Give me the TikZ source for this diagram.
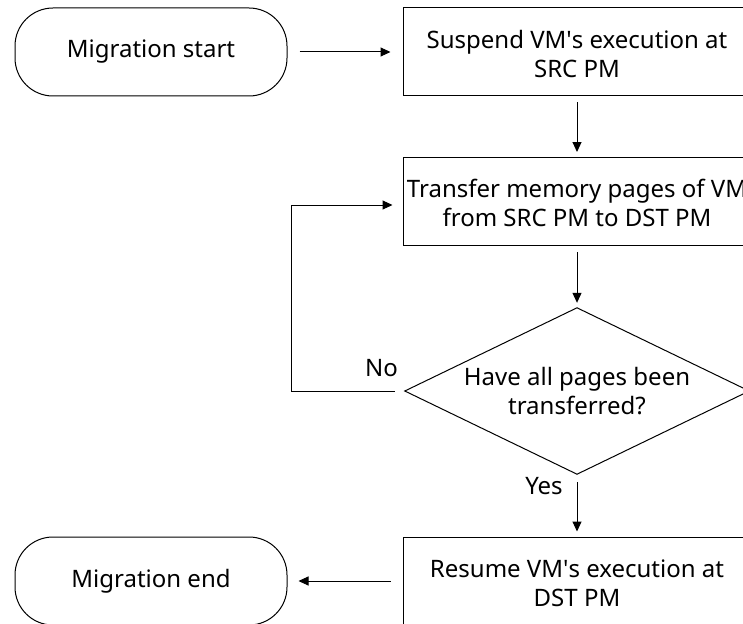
\documentclass[tikz,border=0pt]{standalone}
\usepackage{fontspec}
\setmainfont{Noto Sans}
\usetikzlibrary{arrows.meta}
\begin{document}
\begin{tikzpicture}[x=1pt,y=-1pt,
  txt/.style={font=\fontsize{24}{29}\selectfont, align=center, inner sep=0pt},
  procbox/.style={draw, line width=1pt, minimum width=348pt, minimum height=88pt, inner sep=0pt},
  termbox/.style={draw, line width=1pt, minimum width=272pt, minimum height=88pt, rounded corners=38pt, inner sep=0pt},
  arr/.style={line width=1pt, -{Triangle[length=10pt,width=9pt]}}
]
\useasboundingbox (0,0) rectangle (743,623);
\clip (0,0) rectangle (743,623);
\fill[white] (0,0) rectangle (743,623);

% terminals
\node[termbox] (start) at (151,52) {};
\node[txt] (starttxt) at (start) {Migration start};
\node[termbox] (end) at (151,581) {};
\node[txt] (endtxt) at (end) {Migration end};

% process boxes
\node[procbox] (b1) at (577,52) {};
\node[txt] (b1txt) at (577,54.5) {Suspend VM\textquotesingle s execution at\\SRC PM};
\node[procbox] (b2) at (577,201.5) {};
\node[txt] (b2txt) at (577,203) {Transfer memory pages of VM\\from SRC PM to DST PM};
\node[procbox] (b3) at (577,581) {};
\node[txt] (b3txt) at (577,583.5) {Resume VM\textquotesingle s execution at\\DST PM};

% decision
\node[minimum width=344pt, minimum height=166pt, inner sep=0pt] (dia) at (577,391) {};
\draw[line width=1pt] (dia.north) -- (dia.east) -- (dia.south) -- (dia.west) -- cycle;
\node[txt] (diatxt) at (577,391) {Have all pages been\\transferred?};

% labels
\node[txt] (no) at (381.5,368) {No};
\node[txt] (yes) at (544,486) {Yes};

% connectors
\draw[arr, shorten <=12pt, shorten >=12pt] (start.east) -- (b1.west);
\draw[arr, shorten <=6pt, shorten >=5pt] (b1.south) -- (b2.north);
\draw[arr, shorten <=6pt, shorten >=5pt] (b2.south) -- (dia.north);
\draw[arr, shorten <=8pt, shorten >=5pt] (dia.south) -- (b3.north);
\draw[arr, shorten <=12pt, shorten >=11pt] (b3.west) -- (end.east);
\coordinate (loopc) at (291,205);
\draw[arr] ([xshift=-10pt]dia.west) -| (loopc) -- ([xshift=-10pt]b2.west |- loopc);
\end{tikzpicture}
\end{document}
